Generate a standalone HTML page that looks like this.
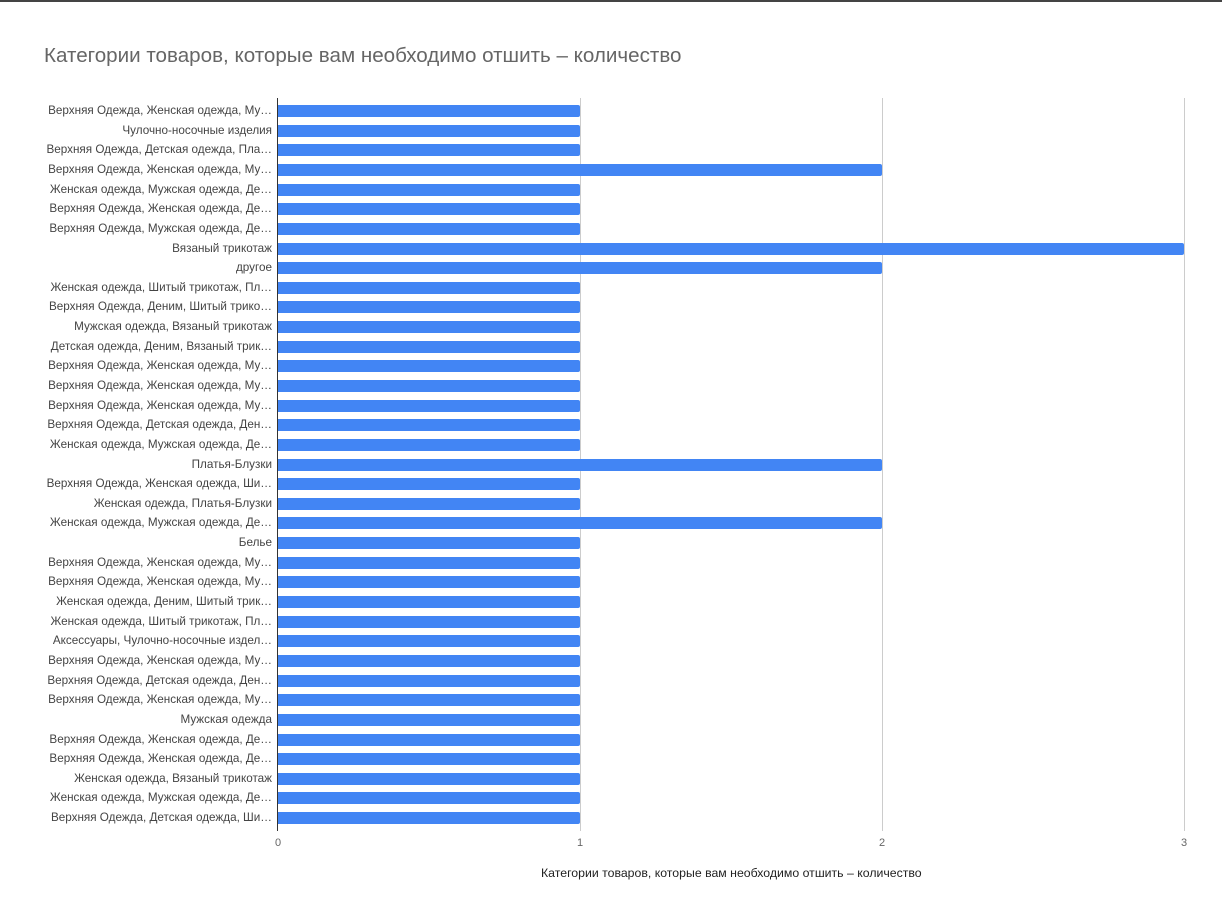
<!DOCTYPE html>
<html><head><meta charset="utf-8"><style>
body{margin:0;width:1222px;height:923px;background:#fff;position:relative;overflow:hidden;font-family:"Liberation Sans",Arial,sans-serif;}
.a{position:absolute}
.l{position:absolute;right:950px;font-size:11.7px;color:#444;white-space:nowrap;text-align:right;line-height:12px}
.b{position:absolute;left:278px;height:12px;background:#4285f4;border-radius:0 2px 2px 0}
.g{position:absolute;top:98px;height:733px;width:1px;background:#ccc}
.t{position:absolute;top:837px;font-size:11px;color:#666;width:20px;text-align:center}
</style></head><body>
<div class="a" style="left:0;top:0;width:1222px;height:2px;background:#444"></div>
<div class="a" style="left:44px;top:44px;font-size:20.6px;color:#666">Категории товаров, которые вам необходимо отшить – количество</div>
<div class="g" style="left:580px"></div><div class="g" style="left:882px"></div><div class="g" style="left:1184px"></div>
<div class="a" style="left:277px;top:98px;width:1px;height:733px;background:#333"></div>
<div id="c"></div>
<div class="t" style="left:268px">0</div><div class="t" style="left:570px">1</div><div class="t" style="left:872px">2</div><div class="t" style="left:1174px">3</div>
<div class="a" style="left:541px;top:866px;font-size:12.3px;color:#222">Категории товаров, которые вам необходимо отшить – количество</div>
<script>
var d=[["Верхняя Одежда, Женская одежда, Му…",1],["Чулочно-носочные изделия",1],["Верхняя Одежда, Детская одежда, Пла…",1],["Верхняя Одежда, Женская одежда, Му…",2],["Женская одежда, Мужская одежда, Де…",1],["Верхняя Одежда, Женская одежда, Де…",1],["Верхняя Одежда, Мужская одежда, Де…",1],["Вязаный трикотаж",3],["другое",2],["Женская одежда, Шитый трикотаж, Пл…",1],["Верхняя Одежда, Деним, Шитый трико…",1],["Мужская одежда, Вязаный трикотаж",1],["Детская одежда, Деним, Вязаный трик…",1],["Верхняя Одежда, Женская одежда, Му…",1],["Верхняя Одежда, Женская одежда, Му…",1],["Верхняя Одежда, Женская одежда, Му…",1],["Верхняя Одежда, Детская одежда, Ден…",1],["Женская одежда, Мужская одежда, Де…",1],["Платья-Блузки",2],["Верхняя Одежда, Женская одежда, Ши…",1],["Женская одежда, Платья-Блузки",1],["Женская одежда, Мужская одежда, Де…",2],["Белье",1],["Верхняя Одежда, Женская одежда, Му…",1],["Верхняя Одежда, Женская одежда, Му…",1],["Женская одежда, Деним, Шитый трик…",1],["Женская одежда, Шитый трикотаж, Пл…",1],["Аксессуары, Чулочно-носочные издел…",1],["Верхняя Одежда, Женская одежда, Му…",1],["Верхняя Одежда, Детская одежда, Ден…",1],["Верхняя Одежда, Женская одежда, Му…",1],["Мужская одежда",1],["Верхняя Одежда, Женская одежда, Де…",1],["Верхняя Одежда, Женская одежда, Де…",1],["Женская одежда, Вязаный трикотаж",1],["Женская одежда, Мужская одежда, Де…",1],["Верхняя Одежда, Детская одежда, Ши…",1]];
var h="";d.forEach(function(r,i){var y=105+i*19.64;h+='<div class="b" style="top:'+y.toFixed(1)+'px;width:'+(r[1]*302)+'px"></div><div class="l" style="top:'+y.toFixed(1)+'px">'+r[0]+'</div>';});
document.getElementById("c").innerHTML=h;
</script>
</body></html>
